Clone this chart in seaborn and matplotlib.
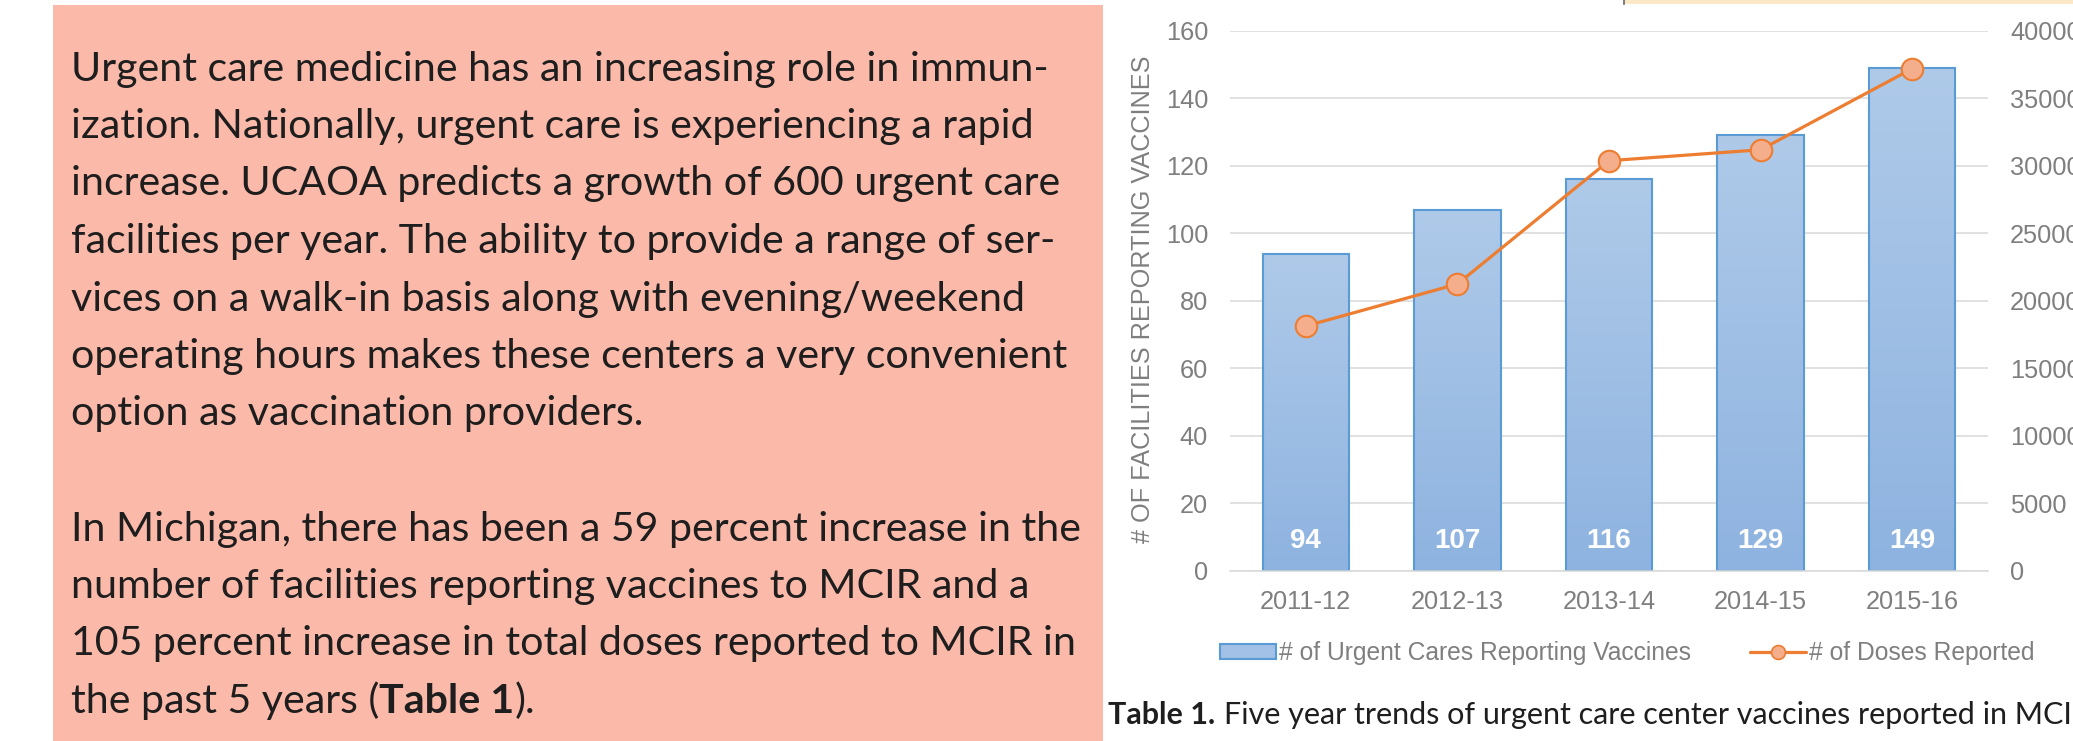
import numpy as np
import pandas as pd
import matplotlib
matplotlib.use("Agg")
import matplotlib.pyplot as plt
import seaborn as sns
from matplotlib.patches import Rectangle, Patch
from matplotlib.lines import Line2D
from matplotlib.colors import LinearSegmentedColormap


# chart data
seasons = ["2011-12", "2012-13", "2013-14", "2014-15", "2015-16"]
facilities = [94, 107, 116, 129, 149]
doses = [18130, 21240, 30370, 31180, 37180]

left_ticks = list(range(0, 161, 20))
right_ticks = list(range(0, 40001, 5000))

bar_label = "# of Urgent Cares Reporting Vaccines"
line_label = "# of Doses Reported"
y_label = "# OF FACILITIES REPORTING VACCINES"

# text beside the chart
paragraph_1 = [
    "Urgent care medicine has an increasing role in immun-",
    "ization. Nationally, urgent care is experiencing a rapid",
    "increase. UCAOA predicts a growth of 600 urgent care",
    "facilities per year. The ability to provide a range of ser-",
    "vices on a walk-in basis along with evening/weekend",
    "operating hours makes these centers a very convenient",
    "option as vaccination providers.",
]
paragraph_2 = [
    "In Michigan, there has been a 59 percent increase in the",
    "number of facilities reporting vaccines to MCIR and a",
    "105 percent increase in total doses reported to MCIR in",
]
last_line = [("the past 5 years (", "normal"), ("Table 1", "bold"), (").", "normal")]
caption_bold = "Table 1."
caption_rest = "Five year trends of urgent care center vaccines reported in MCIR."

W, H = 2073, 741
GRAY = "#7F7F7F"
BAR_EDGE = "#5B9BD5"
ORANGE = "#ED7D31"
MARKER_FACE = "#F4AE8C"
BODY_FONT = ["Lato", "DejaVu Sans"]
BODY_SIZE = 29.6
CAPTION_SIZE = 22
TICK_SIZE = 18.3
LEGEND_SIZE = 17.7

sns.set_theme(style="white")
plt.rcParams["font.family"] = ["Liberation Sans", "DejaVu Sans"]


def fx(px):
    return px / W


def fy(py):
    return 1 - py / H


fig = plt.figure(figsize=(W / 100, H / 100), dpi=100)

# page backgrounds
fig.patches.append(Rectangle((fx(53), 0), fx(1103) - fx(53), fy(5),
                             transform=fig.transFigure, facecolor="#FBB9A9",
                             edgecolor="none", zorder=0))
fig.patches.append(Rectangle((fx(1625), fy(4)), 1 - fx(1625), 4 / H,
                             transform=fig.transFigure, facecolor="#FCE8C6",
                             edgecolor="none", zorder=0))
fig.add_artist(Line2D([fx(1624), fx(1624)], [fy(4), 1], color=GRAY, lw=1.5))

# chart
ax = fig.add_axes([fx(1230), fy(571), fx(1988) - fx(1230), fy(30.6) - fy(571)])
df = pd.DataFrame({"season": seasons, "facilities": facilities, "doses": doses})

sns.barplot(data=df, x="season", y="facilities", color="#A3C0E6",
            edgecolor=BAR_EDGE, linewidth=1.5, width=0.57, ax=ax, zorder=2)

grad = np.linspace(0, 1, 256).reshape(-1, 1)
bar_cmap = LinearSegmentedColormap.from_list("bar", ["#8EB3E0", "#AFCAE9"])
for bar in list(ax.patches):
    x0 = bar.get_x()
    w = bar.get_width()
    h = bar.get_height()
    ax.imshow(grad, extent=[x0, x0 + w, 0, h], origin="lower", cmap=bar_cmap,
              aspect="auto", interpolation="bilinear", zorder=1.9)
    bar.set_facecolor("none")

ax.set_xlim(-0.5, len(seasons) - 0.5)
ax.set_ylim(0, 160)
ax.set_yticks(left_ticks)
ax.yaxis.grid(True, color="#D9D9D9", lw=1.1)
ax.set_axisbelow(True)
ax.set_xlabel("")
ax.set_ylabel("")
ax.tick_params(axis="y", length=0, pad=15.8, labelsize=TICK_SIZE, labelcolor=GRAY)
ax.tick_params(axis="x", length=0, pad=14, labelsize=TICK_SIZE, labelcolor=GRAY)
for side in ["left", "right", "top"]:
    ax.spines[side].set_visible(False)
ax.spines["bottom"].set_color("#D9D9D9")
ax.spines["bottom"].set_linewidth(1.1)

for i, v in enumerate(facilities):
    ax.text(i, 8.9, str(v), ha="center", va="center", color="white",
            fontweight="bold", fontsize=20, zorder=3)

ax2 = ax.twinx()
sns.lineplot(x=np.arange(len(seasons)), y=doses, ax=ax2, color=ORANGE, lw=2.3,
             marker="o", markersize=15.5, markerfacecolor=MARKER_FACE,
             markeredgecolor=ORANGE, markeredgewidth=1.5, legend=False)
ax2.set_ylim(0, 40000)
ax2.set_yticks(right_ticks)
ax2.set_yticklabels([str(t) for t in right_ticks])
ax2.set_ylabel("")
ax2.grid(False)
ax2.tick_params(axis="y", length=0, pad=15.8, labelsize=TICK_SIZE, labelcolor=GRAY)
for side in ax2.spines:
    ax2.spines[side].set_visible(False)
ax.set_xlim(-0.5, len(seasons) - 0.5)

fig.text(fx(1143), fy(299.5), y_label, rotation=90, ha="center", va="center",
         fontsize=18.2, color=GRAY)

handles = [
    Patch(facecolor="#A3C0E6", edgecolor=BAR_EDGE, lw=1.5),
    Line2D([], [], color=ORANGE, lw=2.3, marker="o", markersize=10,
           markerfacecolor=MARKER_FACE, markeredgecolor=ORANGE, markeredgewidth=1.2),
]
fig.legend(handles, [bar_label, line_label], loc="center",
           bbox_to_anchor=(fx(1627), fy(653)), ncol=2, frameon=False,
           fontsize=LEGEND_SIZE, labelcolor=GRAY, handlelength=2.3,
           handletextpad=0.1, columnspacing=2.4, handleheight=0.55)

# body text
renderer = fig.canvas.get_renderer()
TEXT_COLOR = "#1E1E1E"


def write_runs(x_px, base_px, parts, size):
    for text, weight in parts:
        t = fig.text(fx(x_px), fy(base_px), text, fontsize=size, fontweight=weight,
                     family=BODY_FONT, va="baseline", ha="left", color=TEXT_COLOR)
        x_px += t.get_window_extent(renderer).width


lines = paragraph_1 + [None] + paragraph_2
for i, line in enumerate(lines):
    if line is None:
        continue
    write_runs(71, 69.5 + i * 57.5 + 11, [(line, "normal")], BODY_SIZE)
write_runs(71, 69.5 + 11 * 57.5 + 11, last_line, BODY_SIZE)

# caption
t = fig.text(fx(1108), fy(724), caption_bold, fontsize=CAPTION_SIZE, fontweight="bold",
             family=BODY_FONT, va="baseline", ha="left", color=TEXT_COLOR)
gap = CAPTION_SIZE * 0.27 * 100 / 72
x_cap = 1108 + t.get_window_extent(renderer).width + gap
fig.text(fx(x_cap), fy(724), caption_rest, fontsize=CAPTION_SIZE,
         family=BODY_FONT, va="baseline", ha="left", color=TEXT_COLOR)

fig.savefig("out.png", dpi=100)
plt.close(fig)
